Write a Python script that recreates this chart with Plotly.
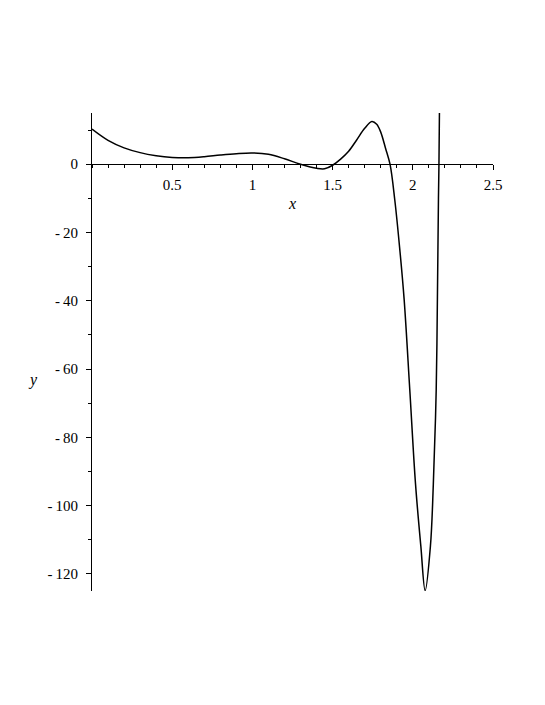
import plotly.graph_objects as go

# Curve samples
x_vals = [0, 0.1, 0.2, 0.3, 0.4, 0.5, 0.6, 0.7, 0.8, 0.9, 1.0, 1.1, 1.2, 1.3,
          1.4, 1.45, 1.5, 1.55, 1.6, 1.65, 1.7, 1.745, 1.775, 1.8, 1.83, 1.858,
          1.8875, 1.919, 1.946, 1.981, 2.017, 2.05, 2.077, 2.11, 2.128, 2.146,
          2.154, 2.16, 2.163, 2.166]
y_vals = [10.3, 7.0, 4.8, 3.4, 2.5, 2.0, 1.9, 2.2, 2.7, 3.1, 3.3, 2.9, 1.6, 0.0,
          -1.2, -1.35, -0.3, 1.5, 3.8, 7.1, 10.5, 12.5, 11.7, 9.4, 4.7, 0.0,
          -10.4, -25.0, -39.6, -65.9, -93.7, -111.8, -124.9, -111.8, -93.7, -65.9,
          -36.7, -10.0, 0.0, 15.0]

x_range = [0, 2.5]
y_range = [-125, 15]
x_tickvals = [0.5, 1, 1.5, 2, 2.5]
x_ticktext = ["0.5", "1", "1.5", "2", "2.5"]
y_tickvals = [0, -20, -40, -60, -80, -100, -120]
y_ticktext = ["0", "-\u200920", "-\u200940", "-\u200960", "-\u200980", "-\u2009100", "-\u2009120"]

font = '"Liberation Serif", "Times New Roman", Times, serif'

fig = go.Figure()
fig.add_trace(go.Scatter(x=x_vals, y=y_vals, mode="lines",
                         line=dict(color="black", width=1.5, shape="spline", smoothing=1.0),
                         showlegend=False, hoverinfo="skip"))

xpos = (0 - y_range[0]) / (y_range[1] - y_range[0])

fig.update_layout(
    width=545, height=705,
    margin=dict(l=84, r=60, t=105, b=122),
    paper_bgcolor="white", plot_bgcolor="white",
    font=dict(family=font, size=15, color="black"),
    xaxis=dict(range=x_range, anchor="free", position=xpos,
               showline=True, linecolor="black", linewidth=1,
               showgrid=False, zeroline=False,
               tickmode="array", tickvals=x_tickvals, ticktext=x_ticktext,
               ticks="outside", ticklen=5, tickcolor="black", tickwidth=1,
               ticklabelstandoff=2,
               minor=dict(tickmode="linear", tick0=0, dtick=0.1, ticks="outside",
                          ticklen=3, tickcolor="black", tickwidth=1, showgrid=False),
               tickfont=dict(family=font, size=15)),
    yaxis=dict(range=y_range, showline=True, linecolor="black", linewidth=1,
               showgrid=False, zeroline=False,
               tickmode="array", tickvals=y_tickvals, ticktext=y_ticktext,
               ticks="outside", ticklen=5, tickcolor="black", tickwidth=1,
               ticklabelstandoff=5,
               minor=dict(tickmode="linear", tick0=0, dtick=10, ticks="outside",
                          ticklen=3, tickcolor="black", tickwidth=1, showgrid=False),
               tickfont=dict(family=font, size=15)),
    annotations=[
        dict(text="<i>x</i>", xref="paper", yref="paper", x=(292 - 92) / 401,
             y=(591 - 203) / 478, xanchor="center", yanchor="middle",
             showarrow=False, font=dict(family=font, size=16)),
        dict(text="<i>y</i>", xref="paper", yref="paper", x=(33 - 92) / 401,
             y=(591 - 380) / 478, xanchor="center", yanchor="middle",
             showarrow=False, font=dict(family=font, size=16)),
    ],
)

fig.write_html("out.html")
